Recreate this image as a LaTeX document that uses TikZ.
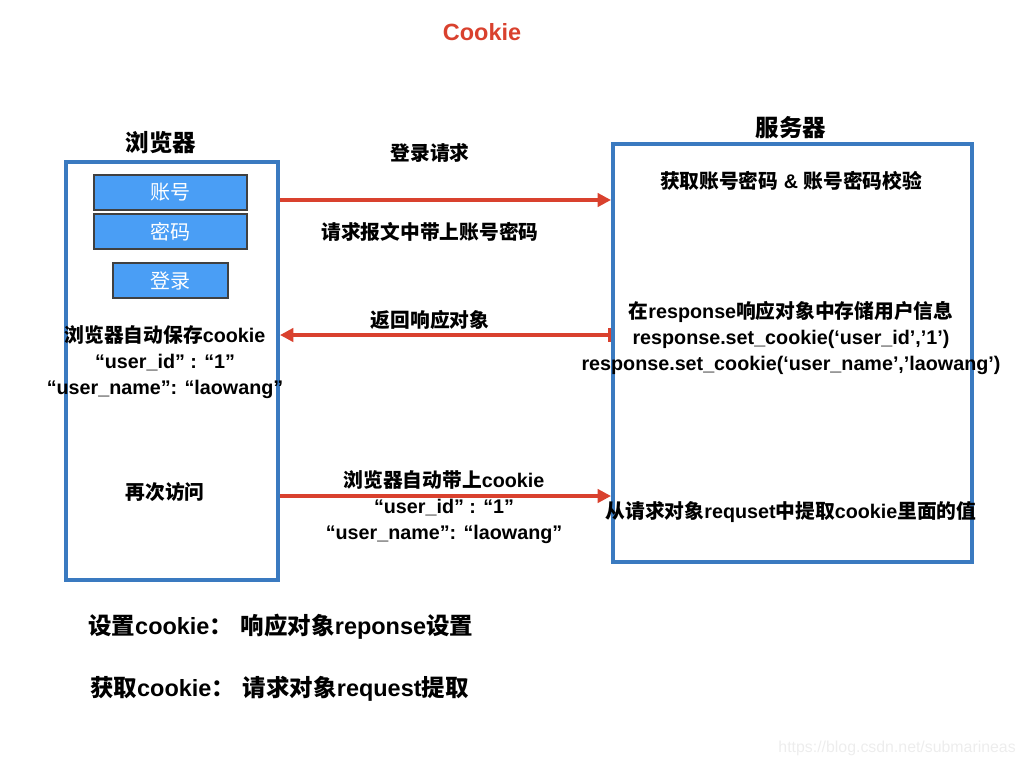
\documentclass[tikz,border=0pt]{standalone}
\usepackage{fontspec}
\setmainfont{Liberation Sans}
\newfontfamily\zhfont{Noto Sans CJK SC}
\newcommand{\zh}[1]{{\zhfont #1}}
\usetikzlibrary{arrows.meta}
\definecolor{boxblue}{RGB}{58,122,192}
\definecolor{btnblue}{RGB}{74,158,245}
\definecolor{arrowred}{RGB}{217,65,46}

\begin{document}
\begin{tikzpicture}[x=0.75pt,y=-0.75pt,
  panel/.style={draw=boxblue, line width=3pt, inner sep=0pt, anchor=north west},
  btn/.style={draw=black!75, fill=btnblue, line width=0.9pt, text=white,
    font=\zhfont\fontsize{15}{18}\selectfont, minimum height=26.25pt},
  txt/.style={font=\bfseries\fontsize{14.8}{19.5}\selectfont, align=center, inner sep=0pt},
  head/.style={font=\bfseries\fontsize{17.6}{21}\selectfont, inner sep=0pt},
  flow/.style={draw=arrowred, line width=2.4pt, -{Triangle[length=10pt,width=10pt]}}]

  \useasboundingbox (0,0) rectangle (1024,768);

  % title
  \node[head, text=arrowred] (title) at (482,32) {Cookie};

  % browser side
  \node[head] (browserlbl) at (161,143) {\zh{浏览器}};
  \node[panel, minimum width=159pt, minimum height=313.5pt] (browser) at (64,160) {};
  \node[btn, minimum width=114.75pt] (account) at (170.5,192.5) {账号};
  \node[btn, minimum width=114.75pt] (passwd) at (170.5,231.5) {密码};
  \node[btn, minimum width=86.25pt] (login) at (170.5,280.5) {登录};
  \node[txt] (saved) at (165,362) {\zh{浏览器自动保存}cookie\\“user\_id” : “1”\\“user\_name”: “laowang”};
  \node[txt] (again) at (165,492) {\zh{再次访问}};

  % server side
  \node[head] (serverlbl) at (791,128) {\zh{服务器}};
  \node[panel, minimum width=269.25pt, minimum height=313.5pt] (server) at (611,142) {};
  \node[txt] (check) at (791,181) {\zh{获取账号密码} \& \zh{账号密码校验}};
  \node[txt] (store) at (791,338) {\zh{在}response\zh{响应对象中存储用户信息}\\response.set\_cookie(‘user\_id’,’1’)\\response.set\_cookie(‘user\_name’,’laowang’)};
  \node[txt] (fetch) at (791,512) {\zh{从请求对象}requset\zh{中提取}cookie\zh{里面的值}};

  % arrows
  \coordinate (reqy) at (0,200);
  \coordinate (respy) at (0,335);
  \coordinate (againy) at (0,496);
  \draw[flow] (browser.east |- reqy) -- (server.west |- reqy);
  \draw[flow, {Bar[width=10pt]}-{Triangle[length=10pt,width=10pt]}] (server.west |- respy) -- (browser.east |- respy);
  \draw[flow] (browser.east |- againy) -- (server.west |- againy);

  % arrow labels
  \node[txt] (reqtop) at (430,153) {\zh{登录请求}};
  \node[txt] (reqbot) at (430,232) {\zh{请求报文中带上账号密码}};
  \node[txt] (resplbl) at (430,320) {\zh{返回响应对象}};
  \node[txt] (againlbl) at (444,507) {\zh{浏览器自动带上}cookie\\“user\_id” : “1”\\“user\_name”: “laowang”};

  % notes
  \node[head, anchor=west] (setnote) at (88,627) {\zh{设置}cookie\zh{：}\hspace{6pt}\zh{响应对象}reponse\zh{设置}};
  \node[head, anchor=west] (getnote) at (90,689) {\zh{获取}cookie\zh{：}\hspace{6pt}\zh{请求对象}request\zh{提取}};

  % watermark
  \node[anchor=east, text=black!7, font=\fontsize{11.9}{14}\selectfont, inner sep=0pt] (mark) at (1016,748) {https://blog.csdn.net/submarineas};
\end{tikzpicture}
\end{document}
